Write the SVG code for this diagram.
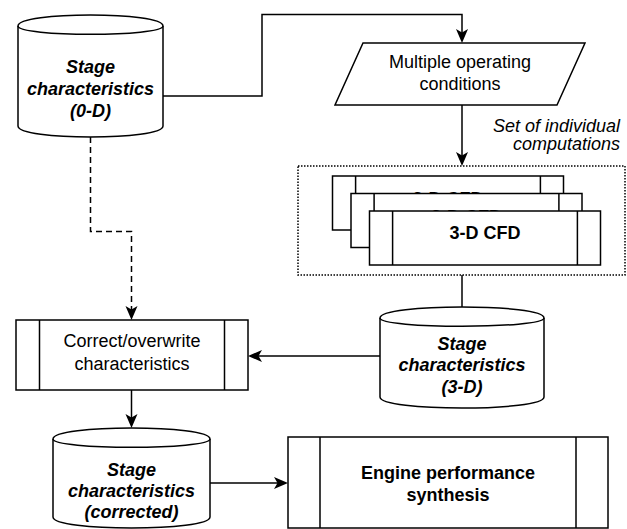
<svg xmlns="http://www.w3.org/2000/svg" width="627" height="529" viewBox="0 0 627 529">
<defs>
<style>
.s{fill:#fff;stroke:#000;stroke-width:1.5}
.ln{fill:none;stroke:#000;stroke-width:1.5}
.t{font-family:"Liberation Sans",Arial,sans-serif;font-size:18px;fill:#000;text-anchor:middle}
.bi{font-weight:bold;font-style:italic}
.b{font-weight:bold}
.i{font-style:italic}
.dash{stroke-dasharray:6 4}
.dot{fill:none;stroke:#000;stroke-width:1.5;stroke-dasharray:1.5 1.5}
</style>
<marker id="arr" markerUnits="userSpaceOnUse" markerWidth="15" markerHeight="13" refX="9" refY="6" orient="auto">
<path d="M0,0 L14,6 L0,12 L3.5,6 Z" fill="#000" stroke="none"/>
</marker>
</defs>
<rect width="627" height="529" fill="#fff"/>

<g id="connectors">
<path class="ln" d="M163,96 H262 V14.5 H462 V38" marker-end="url(#arr)"/>
<path class="ln" d="M462,105 V161" marker-end="url(#arr)"/>
<path class="ln" d="M462,275 V307"/>
<path class="ln" d="M380,356 H253" marker-end="url(#arr)"/>
<path class="ln dash" d="M90.5,137 V231.5 H131.5 V315" marker-end="url(#arr)"/>
<path class="ln" d="M131.5,390 V423" marker-end="url(#arr)"/>
<path class="ln" d="M210,483 H283" marker-end="url(#arr)"/>
</g>

<g id="stage0d">
<path class="s" d="M18,26 C18,11.33 163,11.33 163,26 L163,126 C163,140.67 18,140.67 18,126 Z"/>
<path class="ln" d="M18,26 C18,37 163,37 163,26"/>
<text class="t bi" x="90.5" y="73">Stage</text>
<text class="t bi" x="90.5" y="95">characteristics</text>
<text class="t bi" x="90.5" y="117">(0-D)</text>
</g>

<g id="conditions">
<polygon class="s" points="363,43 585,43 557,105 335,105"/>
<text class="t" x="460" y="68">Multiple operating</text>
<text class="t" x="460" y="90">conditions</text>
</g>

<g id="setlabel">
<text class="t i" x="620" y="132" style="text-anchor:end">Set of individual</text>
<text class="t i" x="620" y="150" style="text-anchor:end">computations</text>
</g>

<g id="cfdset">
<rect class="dot" x="298" y="166" width="327" height="109"/>
<g id="cfd1">
<rect class="s" x="332.5" y="176" width="231" height="54"/>
<path class="ln" d="M355.6,176 V230 M540.4,176 V230"/>
<text class="t b" x="448" y="205">3-D CFD</text>
</g>
<g id="cfd2">
<rect class="s" x="351" y="193.5" width="231" height="54"/>
<path class="ln" d="M374.1,193.5 V247.5 M558.9,193.5 V247.5"/>
<text class="t b" x="466.5" y="223">3-D CFD</text>
</g>
<g id="cfd3">
<rect class="s" x="369.5" y="211" width="231" height="54"/>
<path class="ln" d="M392.6,211 V265 M577.4,211 V265"/>
<text class="t b" x="485" y="239">3-D CFD</text>
</g>
</g>

<g id="stage3d">
<path class="s" d="M380,318 C380,303.33 544,303.33 544,318 L544,397 C544,411.67 380,411.67 380,397 Z"/>
<path class="ln" d="M380,318 C380,329 544,329 544,318"/>
<text class="t bi" x="462" y="350">Stage</text>
<text class="t bi" x="462" y="371">characteristics</text>
<text class="t bi" x="462" y="393">(3-D)</text>
</g>

<g id="correct">
<rect class="s" x="16" y="320" width="232" height="70"/>
<path class="ln" d="M39.5,320 V390 M224.5,320 V390"/>
<text class="t" x="132" y="347">Correct/overwrite</text>
<text class="t" x="132" y="370">characteristics</text>
</g>

<g id="stagecorr">
<path class="s" d="M53,439 C53,424.33 210,424.33 210,439 L210,517 C210,531.67 53,531.67 53,517 Z"/>
<path class="ln" d="M53,439 C53,450 210,450 210,439"/>
<text class="t bi" x="131.5" y="476">Stage</text>
<text class="t bi" x="131.5" y="497">characteristics</text>
<text class="t bi" x="131.5" y="518">(corrected)</text>
</g>

<g id="engine">
<rect class="s" x="288" y="437" width="320" height="91"/>
<path class="ln" d="M320,437 V528 M576,437 V528"/>
<text class="t b" x="448" y="479">Engine performance</text>
<text class="t b" x="448" y="501">synthesis</text>
</g>
</svg>
